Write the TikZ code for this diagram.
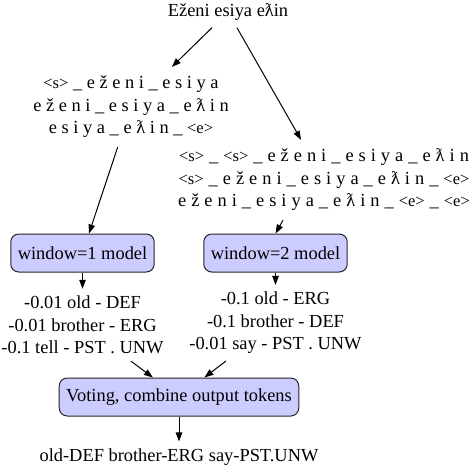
\documentclass[tikz,border=0pt]{standalone}
\usepackage{fontspec}
\setmainfont{Liberation Serif}
\usetikzlibrary{arrows.meta}
\definecolor{boxfill}{RGB}{204,204,255}
\newcommand\tkn[1]{{\fontsize{16.5}{22.5}\selectfont<#1>}}
\begin{document}
\begin{tikzpicture}[x=1pt,y=-1pt,
  txt/.style={font=\fontsize{18.4}{22.5}\selectfont, align=center, inner xsep=4pt, inner ysep=7pt},
  blk/.style={txt, inner ysep=9pt},
  model/.style={draw=black!85, line width=1pt, fill=boxfill, rounded corners=8pt,
    font=\fontsize{18.4}{22.5}\selectfont, minimum height=38pt, inner xsep=7pt},
  arr/.style={line width=1pt, -{Triangle[length=9pt,width=6.5pt]}}]
\useasboundingbox (0,0) rectangle (474,466);
\node[txt] (title) at (228,12) {Eženi esiya eƛin};
\node[blk] (left) at (131,107) {\tkn{s} \_ e ž e n i \_ e s i y a\\
  e ž e n i \_ e s i y a \_ e ƛ i n\\
  e s i y a \_ e ƛ i n \_ \tkn{e}};
\node[blk, execute at begin node={\spaceskip=5pt\relax}] (right) at (324,180) {\tkn{s} \_ \tkn{s} \_ e ž e n i \_ e s i y a \_ e ƛ i n\\
  \tkn{s} \_ e ž e n i \_ e s i y a \_ e ƛ i n \_ \tkn{e}\\
  e ž e n i \_ e s i y a \_ e ƛ i n \_ \tkn{e} \_ \tkn{e}};
\node[model, minimum width=143pt] (w1) at (82.5,253) {window=1 model};
\node[model, minimum width=143pt] (w2) at (275.5,253) {window=2 model};
\node[txt] (o1) at (82.5,325) {-0.01 old - DEF\\ -0.01 brother - ERG\\ -0.1 tell - PST . UNW};
\node[txt] (o2) at (275.5,323) {-0.1 old - ERG\\ -0.1 brother - DEF\\ -0.01 say - PST . UNW};
\node[model] (vote) at (179,397) {Voting, combine output tokens};
\node[txt] (final) at (179,457) {old-DEF brother-ERG say-PST.UNW};
\draw[arr] (title) -- (left);
\draw[arr] (title) -- (right);
\draw[arr] (left) -- (w1);
\draw[arr] ([xshift=-41pt]right.south) -- (w2.north);
\draw[arr] (w1) -- (o1);
\draw[arr] (w2) -- (o2);
\draw[arr] (o1) -- (vote);
\draw[arr] (o2) -- (vote);
\draw[arr] (vote) -- (final);
\end{tikzpicture}
\end{document}
